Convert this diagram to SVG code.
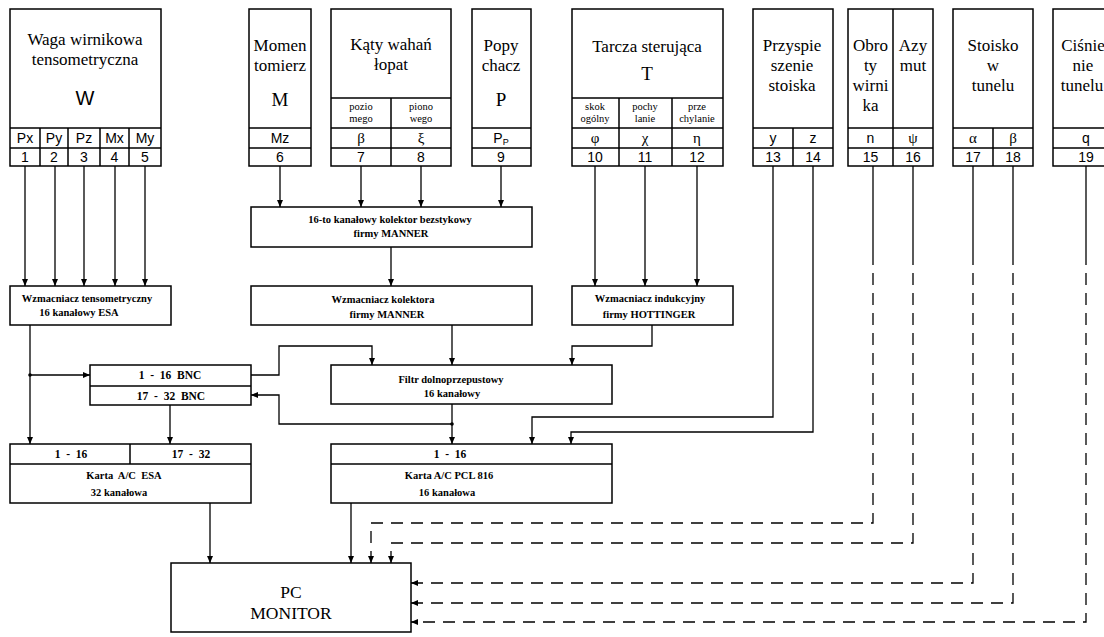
<svg xmlns="http://www.w3.org/2000/svg" width="1104" height="637" viewBox="0 0 1104 637">
<defs>
<marker id="ah" markerWidth="8" markerHeight="8" refX="7" refY="4" orient="auto" markerUnits="userSpaceOnUse"><path d="M0,1 L7,4 L0,7 z" fill="#000"/></marker>
</defs>
<style>
.bx{fill:#fff;stroke:#000;stroke-width:1.5}
.dv{fill:none;stroke:#000;stroke-width:1.5}
.ln{fill:none;stroke:#000;stroke-width:1.3}
.dl{fill:none;stroke:#000;stroke-width:1.3;stroke-dasharray:12 8}
.t{font-family:"Liberation Serif",serif;font-size:17px;text-anchor:middle;fill:#000}
.big{font-family:"Liberation Serif",serif;font-size:19px;text-anchor:middle;fill:#000}
.s{font-family:"Liberation Sans",sans-serif;font-size:14px;text-anchor:middle;fill:#000}
.g{font-family:"Liberation Serif",serif;font-size:15px;text-anchor:middle;fill:#000}
.sm{font-family:"Liberation Serif",serif;font-size:10.5px;text-anchor:middle;fill:#000}
.b{font-family:"Liberation Serif",serif;font-size:10.5px;font-weight:bold;text-anchor:middle;fill:#000}
.bb{font-family:"Liberation Serif",serif;font-size:11.5px;font-weight:bold;text-anchor:middle;fill:#000}
.pc{font-family:"Liberation Serif",serif;font-size:17.5px;text-anchor:middle;fill:#000}
</style>
<rect width="1104" height="637" fill="#fff"/>

<g id="connectors">
  <path class="ln" marker-end="url(#ah)" d="M25,166 V286"/>
  <path class="ln" marker-end="url(#ah)" d="M55,166 V286"/>
  <path class="ln" marker-end="url(#ah)" d="M84,166 V286"/>
  <path class="ln" marker-end="url(#ah)" d="M115,166 V286"/>
  <path class="ln" marker-end="url(#ah)" d="M145,166 V286"/>
  <path class="ln" marker-end="url(#ah)" d="M280,166 V207"/>
  <path class="ln" marker-end="url(#ah)" d="M361,166 V207"/>
  <path class="ln" marker-end="url(#ah)" d="M421,166 V207"/>
  <path class="ln" marker-end="url(#ah)" d="M501,166 V207"/>
  <path class="ln" marker-end="url(#ah)" d="M391,247 V286"/>
  <path class="ln" marker-end="url(#ah)" d="M595,166 V286"/>
  <path class="ln" marker-end="url(#ah)" d="M645,166 V286"/>
  <path class="ln" marker-end="url(#ah)" d="M697,166 V286"/>
  <path class="ln" marker-end="url(#ah)" d="M30,325 V444"/>
  <circle cx="30" cy="375" r="1.8" fill="#000"/>
  <path class="ln" marker-end="url(#ah)" d="M30,375 H90"/>
  <path class="ln" marker-end="url(#ah)" d="M170,405 V444"/>
  <path class="ln" marker-end="url(#ah)" d="M251,375 H279 V346 H372 V365"/>
  <path class="ln" marker-end="url(#ah)" d="M452,325 V365"/>
  <path class="ln" marker-end="url(#ah)" d="M652,325 V346 H572 V365"/>
  <path class="ln" marker-end="url(#ah)" d="M452,404 V444"/>
  <circle cx="452" cy="424" r="1.8" fill="#000"/>
  <path class="ln" marker-end="url(#ah)" d="M452,424 H279 V395 H251"/>
  <path class="ln" marker-end="url(#ah)" d="M773,166 V417 H532 V444"/>
  <path class="ln" marker-end="url(#ah)" d="M813,166 V432 H571 V444"/>
  <path class="ln" marker-end="url(#ah)" d="M210,503 V563"/>
  <path class="ln" marker-end="url(#ah)" d="M351,503 V563"/>
  <path class="ln" d="M873,166 V265"/>
  <path class="ln" d="M913,166 V265"/>
  <path class="ln" d="M973,166 V265"/>
  <path class="ln" d="M1013,166 V265"/>
  <path class="ln" d="M1086,166 V265"/>
  <path class="dl" marker-end="url(#ah)" d="M873,273 V523 H371 V563"/>
  <path class="dl" marker-end="url(#ah)" d="M913,273 V543 H391 V563"/>
  <path class="dl" marker-end="url(#ah)" d="M973,273 V583 H411"/>
  <path class="dl" marker-end="url(#ah)" d="M1013,273 V603 H411"/>
  <path class="dl" marker-end="url(#ah)" d="M1086,273 V622 H411"/>
</g>

<g id="node-W">
  <rect class="bx" x="10" y="9" width="151" height="157"/>
  <path class="dv" d="M10,128 H161 M10,148 H161 M40,128 V166 M68,128 V166 M100,128 V166 M129,128 V166"/>
  <text class="t" x="85" y="45">Waga wirnikowa</text>
  <text class="t" x="85" y="65">tensometryczna</text>
  <text class="s" x="85" y="105" style="font-size:20px">W</text>
  <text class="s" x="25" y="143">Px</text><text class="s" x="54" y="143">Py</text><text class="s" x="84" y="143">Pz</text><text class="s" x="114.5" y="143">Mx</text><text class="s" x="145" y="143">My</text>
  <text class="s" x="25" y="162">1</text><text class="s" x="54" y="162">2</text><text class="s" x="84" y="162">3</text><text class="s" x="114.5" y="162">4</text><text class="s" x="145" y="162">5</text>
</g>

<g id="node-M">
  <rect class="bx" x="249" y="9" width="62" height="157"/>
  <path class="dv" d="M249,128 H311 M249,148 H311"/>
  <text class="t" x="280" y="51">Momen</text>
  <text class="t" x="280" y="71">tomierz</text>
  <text class="big" x="280" y="106">M</text>
  <text class="s" x="280" y="143">Mz</text>
  <text class="s" x="280" y="162">6</text>
</g>

<g id="node-K">
  <rect class="bx" x="331" y="9" width="120" height="157"/>
  <path class="dv" d="M331,98 H451 M331,128 H451 M331,148 H451 M391,98 V166"/>
  <text class="t" x="391" y="50">Kąty wahań</text>
  <text class="t" x="391" y="70">łopat</text>
  <text class="sm" x="361" y="109.5">pozio</text>
  <text class="sm" x="361" y="121.5">mego</text>
  <text class="sm" x="421" y="109.5">piono</text>
  <text class="sm" x="421" y="121.5">wego</text>
  <text class="g" x="361" y="143">β</text>
  <text class="g" x="421" y="143">ξ</text>
  <text class="s" x="361" y="162">7</text>
  <text class="s" x="421" y="162">8</text>
</g>

<g id="node-P">
  <rect class="bx" x="472" y="9" width="59" height="157"/>
  <path class="dv" d="M472,128 H531 M472,148 H531"/>
  <text class="t" x="501" y="51">Popy</text>
  <text class="t" x="501" y="71">chacz</text>
  <text class="big" x="501" y="106">P</text>
  <text class="s" x="501" y="143">P<tspan style="font-size:9px" dy="2">P</tspan></text>
  <text class="s" x="501" y="162">9</text>
</g>

<g id="node-T">
  <rect class="bx" x="572" y="9" width="151" height="157"/>
  <path class="dv" d="M572,98 H723 M572,128 H723 M572,148 H723 M619,98 V166 M672,98 V166"/>
  <text class="t" x="647" y="52">Tarcza sterująca</text>
  <text class="big" x="647" y="80">T</text>
  <text class="sm" x="595" y="109.5">skok</text>
  <text class="sm" x="595" y="121.5">ogólny</text>
  <text class="sm" x="645" y="109.5">pochy</text>
  <text class="sm" x="645" y="121.5">lanie</text>
  <text class="sm" x="697" y="109.5">prze</text>
  <text class="sm" x="697" y="121.5">chylanie</text>
  <text class="g" x="595" y="143">φ</text>
  <text class="g" x="645" y="143">χ</text>
  <text class="g" x="697" y="143">η</text>
  <text class="s" x="595" y="162">10</text>
  <text class="s" x="645" y="162">11</text>
  <text class="s" x="697" y="162">12</text>
</g>

<g id="node-Prz">
  <rect class="bx" x="753" y="9" width="80" height="157"/>
  <path class="dv" d="M753,128 H833 M753,148 H833 M793,128 V166"/>
  <text class="t" x="792" y="51">Przyspie</text>
  <text class="t" x="792" y="71">szenie</text>
  <text class="t" x="792" y="91">stoiska</text>
  <text class="s" x="773" y="143">y</text>
  <text class="s" x="813" y="143">z</text>
  <text class="s" x="773" y="162">13</text>
  <text class="s" x="813" y="162">14</text>
</g>

<g id="node-OA">
  <rect class="bx" x="848" y="9" width="85" height="157"/>
  <path class="dv" d="M848,128 H933 M848,148 H933 M893,9 V166"/>
  <text class="t" x="870.5" y="51">Obro</text>
  <text class="t" x="870.5" y="71">ty</text>
  <text class="t" x="870.5" y="91">wirni</text>
  <text class="t" x="870.5" y="111">ka</text>
  <text class="t" x="913" y="51">Azy</text>
  <text class="t" x="913" y="71">mut</text>
  <text class="s" x="870.5" y="143">n</text>
  <text class="g" x="913" y="143">ψ</text>
  <text class="s" x="870.5" y="162">15</text>
  <text class="s" x="913" y="162">16</text>
</g>

<g id="node-S">
  <rect class="bx" x="953" y="9" width="80" height="157"/>
  <path class="dv" d="M953,128 H1033 M953,148 H1033 M993,128 V166"/>
  <text class="t" x="993" y="51">Stoisko</text>
  <text class="t" x="993" y="71">w</text>
  <text class="t" x="993" y="91">tunelu</text>
  <text class="g" x="973" y="143">α</text>
  <text class="g" x="1013" y="143">β</text>
  <text class="s" x="973" y="162">17</text>
  <text class="s" x="1013" y="162">18</text>
</g>

<g id="node-C">
  <rect class="bx" x="1053" y="9" width="66" height="157"/>
  <path class="dv" d="M1053,128 H1119 M1053,148 H1119"/>
  <text class="t" x="1083" y="51">Ciśnie</text>
  <text class="t" x="1083" y="71">nie</text>
  <text class="t" x="1082" y="91">tunelu</text>
  <text class="s" x="1086" y="143">q</text>
  <text class="s" x="1086" y="162">19</text>
</g>

<g id="node-kolektor">
  <rect class="bx" x="251" y="207" width="281" height="40"/>
  <text class="b" x="390" y="223">16-to kanałowy kolektor bezstykowy</text>
  <text class="b" x="391" y="237">firmy MANNER</text>
</g>

<g id="node-wzm-tens">
  <rect class="bx" x="10" y="286" width="161" height="39"/>
  <text class="b" x="87" y="302">Wzmacniacz tensometryczny</text>
  <text class="b" x="79" y="316">16 kanałowy ESA</text>
</g>

<g id="node-wzm-kol">
  <rect class="bx" x="251" y="286" width="281" height="39"/>
  <text class="b" x="383" y="303">Wzmacniacz kolektora</text>
  <text class="b" x="387" y="318">firmy MANNER</text>
</g>

<g id="node-wzm-ind">
  <rect class="bx" x="572" y="286" width="161" height="39"/>
  <text class="b" x="650" y="302">Wzmacniacz indukcyjny</text>
  <text class="b" x="649" y="318">firmy HOTTINGER</text>
</g>

<g id="node-BNC">
  <rect class="bx" x="90" y="365" width="161" height="40"/>
  <path class="dv" d="M90,386 H251"/>
  <text class="bb" x="170" y="379" xml:space="preserve">1  -  16  BNC</text>
  <text class="bb" x="171" y="400" xml:space="preserve">17  -  32  BNC</text>
</g>

<g id="node-filtr">
  <rect class="bx" x="331" y="365" width="281" height="39"/>
  <text class="b" x="451" y="383">Filtr dolnoprzepustowy</text>
  <text class="b" x="452" y="397">16 kanałowy</text>
</g>

<g id="node-karta-esa">
  <rect class="bx" x="10" y="444" width="241" height="59"/>
  <path class="dv" d="M10,464 H251 M130,444 V464"/>
  <text class="bb" x="71" y="458" xml:space="preserve">1  -  16</text>
  <text class="bb" x="191" y="458" xml:space="preserve">17  -  32</text>
  <text class="b" x="124" y="479" xml:space="preserve">Karta  A/C  ESA</text>
  <text class="b" x="119" y="496">32 kanałowa</text>
</g>

<g id="node-karta-pcl">
  <rect class="bx" x="331" y="444" width="281" height="59"/>
  <path class="dv" d="M331,464 H612"/>
  <text class="bb" x="450" y="458" xml:space="preserve">1  -  16</text>
  <text class="b" x="449" y="479">Karta A/C PCL 816</text>
  <text class="b" x="447" y="496">16 kanałowa</text>
</g>

<g id="node-pc">
  <rect class="bx" x="171" y="563" width="240" height="69"/>
  <text class="pc" x="291" y="598">PC</text>
  <text class="pc" x="291" y="619">MONITOR</text>
</g>
</svg>
